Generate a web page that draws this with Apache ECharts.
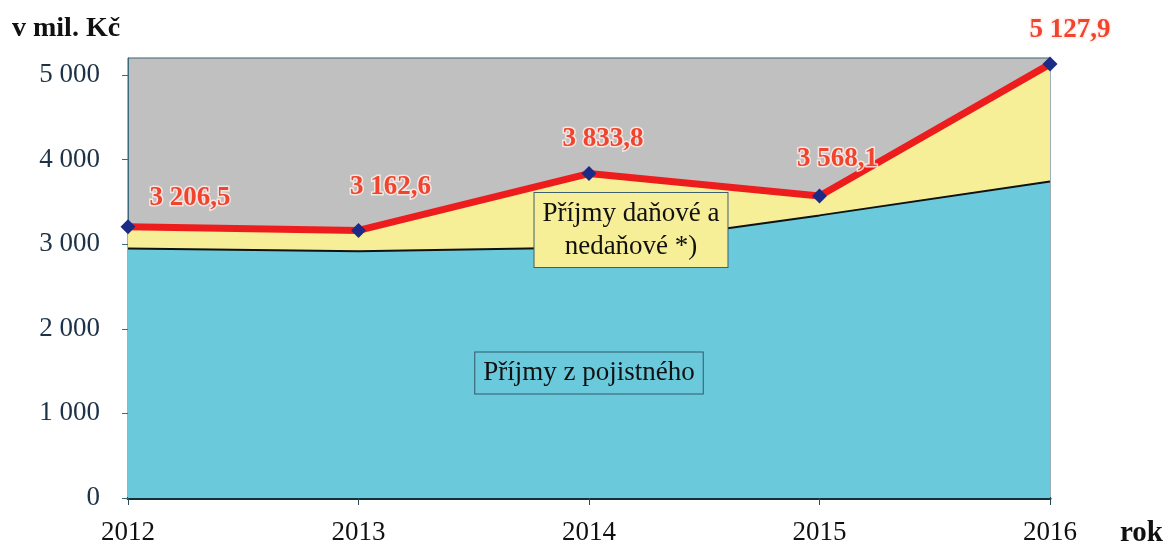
<!DOCTYPE html>
<html>
<head>
<meta charset="utf-8">
<script src="https://cdn.jsdelivr.net/npm/echarts@6/dist/echarts.min.js"></script>
<style>
  html, body { margin: 0; padding: 0; background: #fff; }
  #chart { width: 1172px; height: 547px; }
</style>
</head>
<body>
<div id="chart"></div>
<script>
const years = ['2012', '2013', '2014', '2015', '2016']
// příjmy celkem (červená čára)
const totalIncome = [3206.5, 3162.6, 3833.8, 3568.1, 5127.9]
// příjmy z pojistného (modrá plocha)
const insuranceIncome = [2950, 2915, 2960, 3340, 3740]
const yTicks = [0, 1000, 2000, 3000, 4000, 5000]

// zbytek = příjmy daňové a nedaňové
const otherIncome = totalIncome.map((v, i) => +(v - insuranceIncome[i]).toFixed(1))

// posun popisků nad body
const labelOffsets = [[62, 6], [32, -8], [14, 0], [18, -2], [20, 1]]

const fmt = (v, dec) => {
  const parts = v.toFixed(dec).split('.')
  const int = parts[0].replace(/\B(?=(\d{3})+(?!\d))/g, ' ')
  return parts[1] ? int + ',' + parts[1] : int
}

const serif = 'Liberation Serif, Times New Roman, serif'

const chart = echarts.init(document.getElementById('chart'))

const option = {
  animation: false,
  grid: {
    left: 128,
    right: 122,
    top: 58,
    bottom: 49,
    show: true,
    backgroundColor: '#c0c0c0',
    borderColor: '#3d6070',
    borderWidth: 1
  },
  xAxis: {
    type: 'category',
    data: years,
    boundaryGap: false,
    axisLine: { lineStyle: { color: '#143038', width: 3 } },
    axisTick: { show: true, length: 7, lineStyle: { color: '#2a4a55' } },
    axisLabel: {
      fontFamily: serif,
      fontSize: 27,
      color: '#111',
      margin: 21
    },
    splitLine: { show: false }
  },
  yAxis: {
    type: 'value',
    min: 0,
    max: 5200,
    interval: 1000,
    axisLine: { show: true, lineStyle: { color: '#3d6a7a', width: 1 } },
    axisTick: { show: true, length: 6, lineStyle: { color: '#3d6a7a' } },
    axisLabel: {
      fontFamily: serif,
      fontSize: 27,
      color: '#1d3246',
      margin: 28,
      showMaxLabel: false,
      formatter: v => (yTicks.indexOf(v) >= 0 ? fmt(v, 0) : '')
    },
    splitLine: { show: false }
  },
  series: [
    {
      name: 'Příjmy z pojistného',
      type: 'line',
      stack: 'prijmy',
      data: insuranceIncome,
      symbol: 'none',
      lineStyle: { color: '#111', width: 2 },
      areaStyle: { color: '#6bc9dc', opacity: 1 },
      z: 2
    },
    {
      name: 'Příjmy daňové a nedaňové',
      type: 'line',
      stack: 'prijmy',
      data: otherIncome,
      symbol: 'none',
      lineStyle: { width: 0 },
      areaStyle: { color: '#f7ee98', opacity: 1 },
      z: 2
    },
    {
      name: 'Příjmy celkem',
      type: 'line',
      data: totalIncome.map((v, i) => ({
        value: v,
        label: { offset: labelOffsets[i] }
      })),
      symbol: 'diamond',
      symbolSize: 15,
      itemStyle: { color: '#1c2b86' },
      lineStyle: { color: '#ee1d1d', width: 7 },
      label: {
        show: true,
        position: 'top',
        distance: 14,
        fontFamily: serif,
        fontWeight: 'bold',
        fontSize: 27,
        color: '#f0442e',
        textBorderColor: 'rgba(255,235,230,0.85)',
        textBorderWidth: 3,
        formatter: p => fmt(p.value, 1)
      },
      z: 5
    }
  ],
  graphic: [
    {
      type: 'text',
      left: 12,
      top: 15,
      style: {
        text: 'v mil. Kč',
        font: 'bold 28px ' + serif,
        fill: '#111'
      }
    },
    {
      type: 'text',
      left: 1120,
      top: 519,
      style: {
        text: 'rok',
        font: 'bold 29px ' + serif,
        fill: '#111'
      }
    },
    {
      type: 'text',
      z: 10,
      x: 631,
      y: 230,
      style: {
        text: 'Příjmy daňové a\nnedaňové *)',
        font: '27px ' + serif,
        fill: '#111',
        align: 'center',
        verticalAlign: 'middle',
        lineHeight: 33,
        backgroundColor: '#f7ee98',
        borderColor: '#3d6070',
        borderWidth: 1,
        padding: [5, 8, 3, 8]
      }
    },
    {
      type: 'text',
      z: 10,
      x: 589,
      y: 373,
      style: {
        text: 'Příjmy z pojistného',
        font: '27px ' + serif,
        fill: '#111',
        align: 'center',
        verticalAlign: 'middle',
        backgroundColor: '#6bc9dc',
        borderColor: '#2f5868',
        borderWidth: 1,
        padding: [8, 8, 6, 8]
      }
    }
  ]
}

chart.setOption(option)
</script>
</body>
</html>
